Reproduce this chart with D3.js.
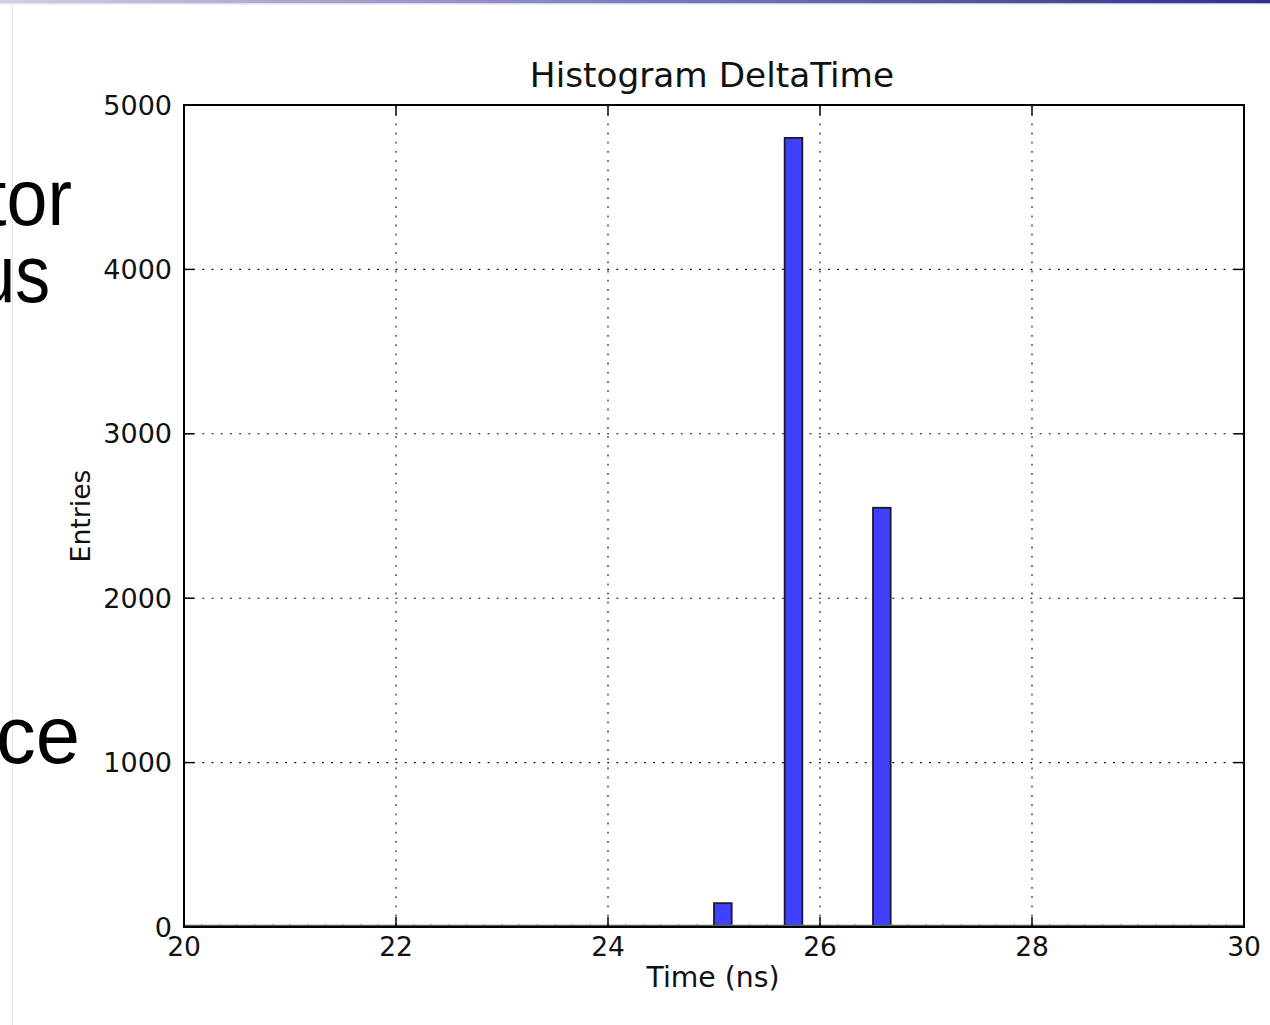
<!DOCTYPE html>
<html>
<head>
<meta charset="utf-8">
<script src="https://cdn.jsdelivr.net/npm/d3@7"></script>
<style>
  html, body { margin: 0; padding: 0; background: #fff; }
  svg { display: block; }
</style>
</head>
<body>
<svg id="chart" width="1270" height="1025"></svg>
<script>
// Histogram of DeltaTime: 60 bins spanning 20–30 ns
const binRange = [20, 30];
const binCounts = [
  0, 0, 0, 0, 0, 0, 0, 0, 0, 0,
  0, 0, 0, 0, 0, 0, 0, 0, 0, 0,
  0, 0, 0, 0, 0, 0, 0, 0, 0, 0,
  145, 0, 0, 0, 4800, 0, 0, 0, 0, 2550,
  0, 0, 0, 0, 0, 0, 0, 0, 0, 0,
  0, 0, 0, 0, 0, 0, 0, 0, 0, 0
];
const xTicks = [20, 22, 24, 26, 28, 30];
const yTicks = [0, 1000, 2000, 3000, 4000, 5000];
const titleText = "Histogram DeltaTime";
const xLabel = "Time (ns)";
const yLabel = "Entries";
const slideFragments = [
  { text: "tor", x: 72, y: 225, sx: 0.92, size: 80 },
  { text: "us", x: 50, y: 302, sx: 0.85, size: 82 },
  { text: "ce", x: 80, y: 763, sx: 0.97, size: 82 }
];

const svg = d3.select("#chart");

// --- slide background pieces ---
const defs = svg.append("defs");
const grad = defs.append("linearGradient").attr("id", "topBar")
  .attr("x1", "0%").attr("x2", "100%");
grad.append("stop").attr("offset", "0%").attr("stop-color", "#cfcfe4");
grad.append("stop").attr("offset", "45%").attr("stop-color", "#8484c0");
grad.append("stop").attr("offset", "100%").attr("stop-color", "#303088");
svg.append("rect").attr("x", 0).attr("y", 0).attr("width", 1270).attr("height", 3.5)
  .attr("fill", "url(#topBar)");
svg.append("rect").attr("x", 0).attr("y", 3.5).attr("width", 1270).attr("height", 1)
  .attr("fill", "#e2e2ee");
svg.append("line").attr("x1", 12.5).attr("x2", 12.5).attr("y1", 4).attr("y2", 1025)
  .attr("stroke", "#e6e6e6").attr("stroke-width", 1);

svg.selectAll("text.slide").data(slideFragments).join("text")
  .attr("class", "slide")
  .attr("transform", d => `translate(${d.x},${d.y}) scale(${d.sx},1)`)
  .attr("text-anchor", "end")
  .attr("font-family", "Liberation Sans, Arial, sans-serif")
  .attr("font-size", d => d.size)
  .attr("fill", "#000")
  .text(d => d.text);

// --- plot area ---
const plot = { left: 184, right: 1244, top: 105, bottom: 927 };

const x = d3.scaleLinear().domain(binRange).range([plot.left, plot.right]);
const y = d3.scaleLinear().domain([0, 5000]).range([plot.bottom, plot.top]);

const binWidth = (binRange[1] - binRange[0]) / binCounts.length;
const bins = binCounts.map((c, i) => ({
  x0: binRange[0] + i * binWidth,
  x1: binRange[0] + (i + 1) * binWidth,
  count: c
}));

const g = svg.append("g");

// grid (dotted)
g.append("g").selectAll("line").data(xTicks.slice(1, -1)).join("line")
  .attr("x1", d => x(d)).attr("x2", d => x(d))
  .attr("y1", plot.top).attr("y2", plot.bottom)
  .attr("stroke", "#000").attr("stroke-width", 1.1)
  .attr("stroke-dasharray", "1.8,7.4");
g.append("g").selectAll("line").data(yTicks.slice(1, -1)).join("line")
  .attr("x1", plot.left).attr("x2", plot.right)
  .attr("y1", d => y(d)).attr("y2", d => y(d))
  .attr("stroke", "#000").attr("stroke-width", 1.1)
  .attr("stroke-dasharray", "1.8,7.4");

// bars
g.append("g").selectAll("rect").data(bins.filter(b => b.count > 0)).join("rect")
  .attr("x", d => x(d.x0))
  .attr("width", d => x(d.x1) - x(d.x0))
  .attr("y", d => y(d.count))
  .attr("height", d => y(0) - y(d.count))
  .attr("fill", "#4040ff")
  .attr("stroke", "#1a1a2a")
  .attr("stroke-width", 1.8);

// edges of empty bins along the baseline
g.append("g").selectAll("line").data(bins.filter(b => b.count === 0)).join("line")
  .attr("x1", d => x(d.x0)).attr("x2", d => x(d.x0))
  .attr("y1", y(0) - 3).attr("y2", y(0))
  .attr("stroke", "#7a8a7a").attr("stroke-width", 1);

// baseline of the histogram outline
g.append("line")
  .attr("x1", plot.left).attr("x2", plot.right)
  .attr("y1", y(0) - 1.5).attr("y2", y(0) - 1.5)
  .attr("stroke", "#4d6a4d").attr("stroke-width", 1.5);

// frame
g.append("rect")
  .attr("x", plot.left).attr("y", plot.top)
  .attr("width", plot.right - plot.left).attr("height", plot.bottom - plot.top)
  .attr("fill", "none").attr("stroke", "#000").attr("stroke-width", 2);

// inward ticks on all four sides
const tickLen = 10;
const ticks = g.append("g").attr("stroke", "#000").attr("stroke-width", 1.5);
xTicks.forEach(t => {
  ticks.append("line").attr("x1", x(t)).attr("x2", x(t))
    .attr("y1", plot.bottom).attr("y2", plot.bottom - tickLen);
  ticks.append("line").attr("x1", x(t)).attr("x2", x(t))
    .attr("y1", plot.top).attr("y2", plot.top + tickLen);
});
yTicks.forEach(t => {
  ticks.append("line").attr("x1", plot.left).attr("x2", plot.left + tickLen)
    .attr("y1", y(t)).attr("y2", y(t));
  ticks.append("line").attr("x1", plot.right).attr("x2", plot.right - tickLen)
    .attr("y1", y(t)).attr("y2", y(t));
});

const font = "DejaVu Sans, sans-serif";

// tick labels
g.append("g").selectAll("text").data(xTicks).join("text")
  .attr("x", d => x(d)).attr("y", plot.bottom + 29)
  .attr("text-anchor", "middle")
  .attr("font-family", font).attr("font-size", 26.5).attr("fill", "#111")
  .text(d => d);
g.append("g").selectAll("text").data(yTicks).join("text")
  .attr("x", plot.left - 12).attr("y", d => y(d) + 9.5)
  .attr("text-anchor", "end")
  .attr("font-family", font).attr("font-size", 27).attr("fill", "#111")
  .text(d => d);

// title and axis labels
svg.append("text")
  .attr("x", 712).attr("y", 87)
  .attr("text-anchor", "middle")
  .attr("font-family", font).attr("font-size", 34.3).attr("fill", "#111")
  .text(titleText);
svg.append("text")
  .attr("x", 713).attr("y", 987)
  .attr("text-anchor", "middle")
  .attr("font-family", font).attr("font-size", 28.3).attr("fill", "#111")
  .text(xLabel);
svg.append("text")
  .attr("transform", `translate(90,${(plot.top + plot.bottom) / 2}) rotate(-90)`)
  .attr("text-anchor", "middle")
  .attr("font-family", font).attr("font-size", 26.7).attr("fill", "#111")
  .text(yLabel);
</script>
</body>
</html>
